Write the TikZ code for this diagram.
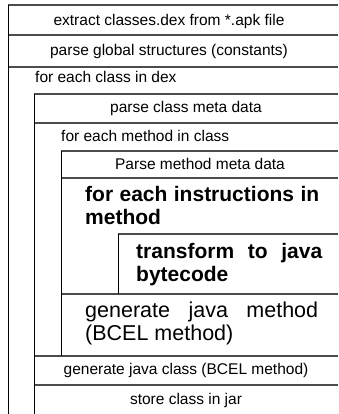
\documentclass[tikz,border=0pt]{standalone}
\usepackage{fontspec}
\setmainfont{Liberation Sans}
\tikzset{
  hline/.style={line width=1.5pt, draw=black!70},
  vline/.style={line width=1pt, draw=black},
  small/.style={font=\fontsize{15.5}{18}\selectfont, inner sep=0pt},
  para/.style={inner sep=0pt, align=justify, anchor=north west},
  bigbold/.style={para, font=\fontsize{21}{23.5}\selectfont\bfseries},
  bigreg/.style={para, font=\fontsize{21.5}{23.5}\selectfont},
}
\begin{document}
\begin{tikzpicture}[x=1pt,y=-1pt]
\useasboundingbox (0,0) rectangle (338,414);

% block separators
\draw[hline] (8,5)   -- (338,5);
\draw[hline] (8,35)  -- (338,35);
\draw[hline] (8,67)  -- (338,67);
\draw[hline] (34,94) -- (338,94);
\draw[hline] (34,123) -- (338,123);
\draw[hline] (61,151) -- (338,151);
\draw[hline] (61,178) -- (338,178);
\draw[hline] (118,234) -- (338,234);
\draw[hline] (61,294) -- (338,294);
\draw[hline] (34,356) -- (338,356);
\draw[hline] (34,385) -- (338,385);

% loop bars
\draw[vline] (8,5)    -- (8,414);
\draw[vline] (34,94)  -- (34,414);
\draw[vline] (61,151) -- (61,356);
\draw[vline] (118,234) -- (118,294);

% statements
\node[small, anchor=base] (extract) at (169,26) {extract classes.dex from *.apk file};
\node[small, anchor=base] (parseglobal) at (169,56) {parse global structures (constants)};
\node[small, anchor=base west] (eachclass) at (35,83) {for each class in dex};
\node[small, anchor=base] (classmeta) at (186,113) {parse class meta data};
\node[small, anchor=base west] (eachmethod) at (61,142) {for each method in class};
\node[small, anchor=base] (methodmeta) at (200,169) {Parse method meta data};
\node[bigbold, text width=234pt] (eachinstr) at (85,185.7)
  {for each instructions in\linebreak method};
\node[bigbold, text width=186pt] (transform) at (136,242.7)
  {transform to java\linebreak bytecode};
\node[bigreg, text width=233pt] (genmethod) at (85,301.3)
  {generate java method\linebreak (BCEL method)};
\node[small, anchor=base] (genclass) at (186,374) {generate java class (BCEL method)};
\node[small, anchor=base] (store) at (186,404) {store class in jar};
\end{tikzpicture}
\end{document}
